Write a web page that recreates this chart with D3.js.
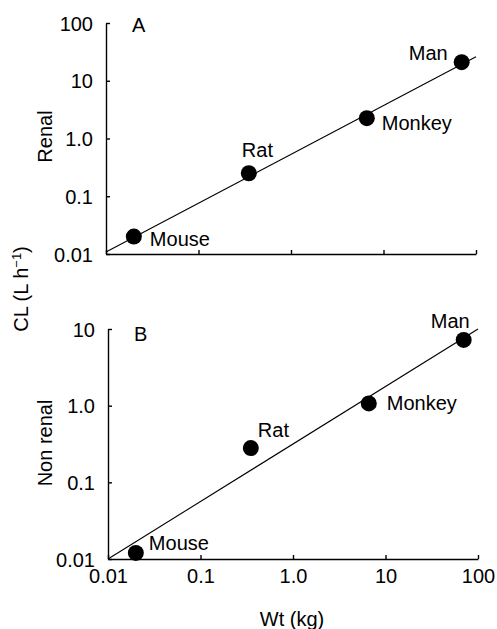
<!DOCTYPE html>
<html>
<head>
<meta charset="utf-8">
<script src="https://cdn.jsdelivr.net/npm/d3@7/dist/d3.min.js"></script>
<style>
  body { margin: 0; background: #fff; }
  svg text { font-family: 'Liberation Sans', Arial, Helvetica, sans-serif; fill: #000; }
  .axis path, .axis line { stroke: #000; stroke-width: 1.4; }
  .axis text { font-size: 20px; }
</style>
</head>
<body>
<svg id="chart" width="497" height="629"></svg>
<script>
// Data
const species = ['Mouse', 'Rat', 'Monkey', 'Man'];
const bodyWeight = [0.02, 0.35, 6.6, 70];        // kg
const renalCL = [0.02, 0.25, 2.25, 21];          // L/h
const nonRenalCL = [0.012, 0.28, 1.07, 7.2];     // L/h
const renalFit = [[0.01, 0.0108], [100, 26]];
const nonRenalFit = [[0.01, 0.01], [100, 10]];
const xTicks = [0.01, 0.1, 1, 10, 100];
const xTickLabels = ['0.01', '0.1', '1.0', '10', '100'];
const yTicksA = [0.01, 0.1, 1, 10, 100];
const yTickLabelsA = ['0.01', '0.1', '1.0', '10', '100'];
const yTicksB = [0.01, 0.1, 1, 10];
const yTickLabelsB = ['0.01', '0.1', '1.0', '10'];

const svg = d3.select('#chart');

// label placement relative to each point: [dx, dy, anchor]
const offsetsA = [[16, 9, 'start'], [-7, -16, 'start'], [15, 12, 'start'], [-14, -2, 'end']];
const offsetsB = [[13, -3, 'start'], [7, -11, 'start'], [18, 7, 'start'], [6, -12, 'end']];

function drawPanel(cfg) {
  const x = d3.scaleLog().domain([0.01, 100]).range([cfg.left, cfg.right]);
  const y = d3.scaleLog().domain(cfg.yDomain).range([cfg.bottom, cfg.top]);
  const g = svg.append('g');

  // regression line
  g.append('line')
    .attr('x1', x(cfg.fit[0][0])).attr('y1', y(cfg.fit[0][1]))
    .attr('x2', x(cfg.fit[1][0])).attr('y2', y(cfg.fit[1][1]))
    .attr('stroke', '#000').attr('stroke-width', 1.1);

  // axes (ticks point inward)
  const yAxis = d3.axisLeft(y)
    .tickValues(cfg.yTicks)
    .tickFormat((d, i) => cfg.yLabels[i])
    .tickSizeInner(-4).tickSizeOuter(0).tickPadding(13);
  g.append('g').attr('class', 'axis')
    .attr('transform', `translate(${cfg.left},0)`)
    .call(yAxis)
    .call(a => a.selectAll('text').attr('dy', '0.36em'));

  const xAxis = d3.axisBottom(x)
    .tickValues(xTicks)
    .tickFormat((d, i) => cfg.showX ? xTickLabels[i] : '')
    .tickSizeInner(-4).tickSizeOuter(0).tickPadding(10);
  g.append('g').attr('class', 'axis')
    .attr('transform', `translate(0,${cfg.bottom})`)
    .call(xAxis);

  // points
  const pts = species.map((s, i) => ({ name: s, wt: bodyWeight[i], cl: cfg.values[i], off: cfg.offsets[i] }));
  g.selectAll('circle').data(pts).enter().append('circle')
    .attr('cx', d => x(d.wt)).attr('cy', d => y(d.cl))
    .attr('r', 8).attr('fill', '#000');

  g.selectAll('text.lbl').data(pts).enter().append('text')
    .attr('class', 'lbl')
    .attr('x', d => x(d.wt) + d.off[0])
    .attr('y', d => y(d.cl) + d.off[1])
    .attr('text-anchor', d => d.off[2])
    .attr('font-size', 20)
    .text(d => d.name);

  // panel letter
  g.append('text')
    .attr('x', cfg.left + 26).attr('y', cfg.top + cfg.letterDy)
    .attr('font-size', 20)
    .text(cfg.letter);

  // side title
  g.append('text')
    .attr('transform', `translate(${cfg.titleX},${(cfg.top + cfg.bottom) / 2 + cfg.titleShift}) rotate(-90)`)
    .attr('text-anchor', 'middle')
    .attr('font-size', 20)
    .text(cfg.title);
}

drawPanel({
  left: 106, right: 476, top: 23, bottom: 254,
  yDomain: [0.01, 100], yTicks: yTicksA, yLabels: yTickLabelsA,
  values: renalCL, fit: renalFit, offsets: offsetsA,
  showX: false, letter: 'A', letterDy: 9, title: 'Renal', titleX: 52, titleShift: -2
});

drawPanel({
  left: 108, right: 478, top: 329, bottom: 559,
  yDomain: [0.01, 10], yTicks: yTicksB, yLabels: yTickLabelsB,
  values: nonRenalCL, fit: nonRenalFit, offsets: offsetsB,
  showX: true, letter: 'B', letterDy: 12, title: 'Non renal', titleX: 52, titleShift: -1
});

// shared titles
const clTitle = svg.append('text')
  .attr('transform', 'translate(28,289) rotate(-90)')
  .attr('text-anchor', 'middle')
  .attr('font-size', 20);
clTitle.append('tspan').text('CL (L h');
clTitle.append('tspan').attr('dy', -7).attr('font-size', 13).text('\u22121');
clTitle.append('tspan').attr('dy', 7).text(')');

svg.append('text')
  .attr('x', 292).attr('y', 626)
  .attr('text-anchor', 'middle')
  .attr('font-size', 20)
  .text('Wt (kg)');
</script>
</body>
</html>
